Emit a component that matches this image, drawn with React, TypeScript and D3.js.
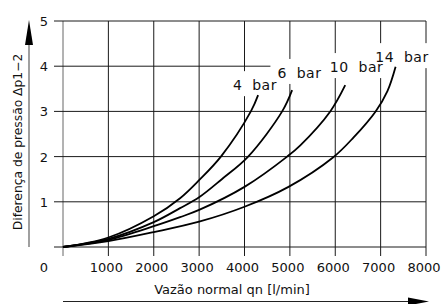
import * as d3 from 'd3';
import React, { useRef, useEffect } from 'react';

// flow [l/min] and pressure drop [bar]
const flow4 = [0, 1000, 2000, 2580, 3000, 3480, 4140, 4300];
const drop4 = [0, 0.21, 0.68, 1.08, 1.48, 2.0, 3.0, 3.36];

const flow6 = [0, 1000, 2000, 2580, 3000, 3500, 4080, 4830, 5050];
const drop6 = [0, 0.18, 0.55, 0.86, 1.1, 1.5, 2.0, 3.0, 3.47];

const flow10 = [0, 1000, 2000, 2580, 3000, 4000, 4940, 5230, 5890, 6220];
const drop10 = [0, 0.16, 0.46, 0.66, 0.82, 1.33, 2.0, 2.25, 3.0, 3.58];

const flow14 = [0, 1000, 2000, 3000, 4000, 4970, 5950, 6400, 6890, 7150, 7330];
const drop14 = [0, 0.13, 0.33, 0.56, 0.89, 1.33, 1.98, 2.42, 3.0, 3.45, 3.99];

const seriesNames = ['4 bar', '6 bar', '10 bar', '14 bar'];
// where each name sits (flow, drop), centre / baseline
const labelFlow = [4230, 5210, 6470, 7470];
const labelDrop = [3.47, 3.74, 3.87, 4.09];

const xTicks = [0, 1000, 2000, 3000, 4000, 5000, 6000, 7000, 8000];
const yTicks = [0, 1, 2, 3, 4, 5];

const W = 445;
const H = 304;
const FONT = '"DejaVu Sans", sans-serif';

function App() {
  const ref = useRef(null);

  useEffect(() => {
    const svg = d3.select(ref.current);
    svg.selectAll('*').remove();

    const x = d3.scaleLinear().domain([0, 8000]).range([63, 426]);
    const y = d3.scaleLinear().domain([0, 5]).range([247, 21]);

    const series = [
      { name: seriesNames[0], f: flow4, p: drop4 },
      { name: seriesNames[1], f: flow6, p: drop6 },
      { name: seriesNames[2], f: flow10, p: drop10 },
      { name: seriesNames[3], f: flow14, p: drop14 },
    ];

    const grid = svg.append('g').attr('stroke', '#1a1a1a').attr('stroke-width', 1);

    // vertical grid lines, sticking out below the axis
    grid.selectAll('line.v')
      .data(xTicks)
      .enter()
      .append('line')
      .attr('x1', d => x(d))
      .attr('x2', d => x(d))
      .attr('y1', y(5))
      .attr('y2', y(0) + 9)
      .attr('stroke', d => (d === 0 ? '#666' : '#1a1a1a'));

    // horizontal grid lines, sticking out left of the axis
    grid.selectAll('line.h')
      .data(yTicks)
      .enter()
      .append('line')
      .attr('x1', x(0) - 9)
      .attr('x2', x(8000))
      .attr('y1', d => y(d))
      .attr('y2', d => y(d));

    // tick labels
    svg.append('g')
      .selectAll('text')
      .data(xTicks)
      .enter()
      .append('text')
      .attr('x', d => (d === 0 ? x(0) - 19 : x(d) - 2))
      .attr('y', y(0) + 25)
      .attr('text-anchor', 'middle')
      .attr('font-family', FONT)
      .attr('font-size', 13)
      .attr('fill', '#111')
      .text(d => String(d));

    svg.append('g')
      .selectAll('text')
      .data(yTicks.filter(d => d > 0))
      .enter()
      .append('text')
      .attr('x', x(0) - 19)
      .attr('y', d => y(d) + 5)
      .attr('text-anchor', 'middle')
      .attr('font-family', FONT)
      .attr('font-size', 13)
      .attr('fill', '#111')
      .text(d => String(d));

    // white boxes behind the curve names
    const labels = seriesNames.map((n, i) => ({ name: n, cx: x(labelFlow[i]), by: y(labelDrop[i]) }));

    svg.append('g')
      .selectAll('rect')
      .data(labels)
      .enter()
      .append('rect')
      .attr('x', d => d.cx - 29)
      .attr('y', d => d.by - 19)
      .attr('width', 58)
      .attr('height', 25)
      .attr('fill', '#fff');

    const line = d3.line<[number, number]>()
      .x(d => x(d[0]))
      .y(d => y(d[1]))
      .curve(d3.curveCatmullRom.alpha(0.5));

    svg.append('g')
      .selectAll('path')
      .data(series)
      .enter()
      .append('path')
      .attr('d', s => line(s.f.map((f, i) => [f, s.p[i]] as [number, number])))
      .attr('fill', 'none')
      .attr('stroke', '#000')
      .attr('stroke-width', 1.8);

    svg.append('g')
      .selectAll('text')
      .data(labels)
      .enter()
      .append('text')
      .attr('x', d => d.cx)
      .attr('y', d => d.by)
      .attr('text-anchor', 'middle')
      .attr('font-family', FONT)
      .attr('font-size', 14)
      .attr('letter-spacing', 0.5)
      .attr('fill', '#111')
      .style('white-space', 'pre')
      .text(d => d.name.replace(' ', '  '));

    // y axis arrow + title
    svg.append('line')
      .attr('x1', 29).attr('x2', 29)
      .attr('y1', y(0)).attr('y2', 40)
      .attr('stroke', '#777').attr('stroke-width', 1.4);
    svg.append('path')
      .attr('d', 'M29,20 L33,45 L25,45 Z')
      .attr('fill', '#000');
    svg.append('text')
      .attr('transform', `translate(22,142) rotate(-90)`)
      .attr('text-anchor', 'middle')
      .attr('font-family', FONT)
      .attr('font-size', 12.3)
      .attr('fill', '#111')
      .text('Diferença de pressão Δp1−2');

    // x axis arrow + title
    svg.append('line')
      .attr('x1', x(0)).attr('x2', 412)
      .attr('y1', 301.5).attr('y2', 301.5)
      .attr('stroke', '#222').attr('stroke-width', 1.2);
    svg.append('path')
      .attr('d', 'M429,301.5 L408,297.5 L408,305.5 Z')
      .attr('fill', '#000');
    svg.append('text')
      .attr('x', 232)
      .attr('y', 294)
      .attr('text-anchor', 'middle')
      .attr('font-family', FONT)
      .attr('font-size', 13)
      .attr('fill', '#111')
      .text('Vazão normal qn [l/min]');
  });

  return (
    <div className="chart" style={{ position: 'absolute', left: 0, top: 0 }}>
      <svg ref={ref} width={W} height={H} style={{ display: 'block', background: '#fff' }}></svg>
    </div>
  );
}

export default App;
